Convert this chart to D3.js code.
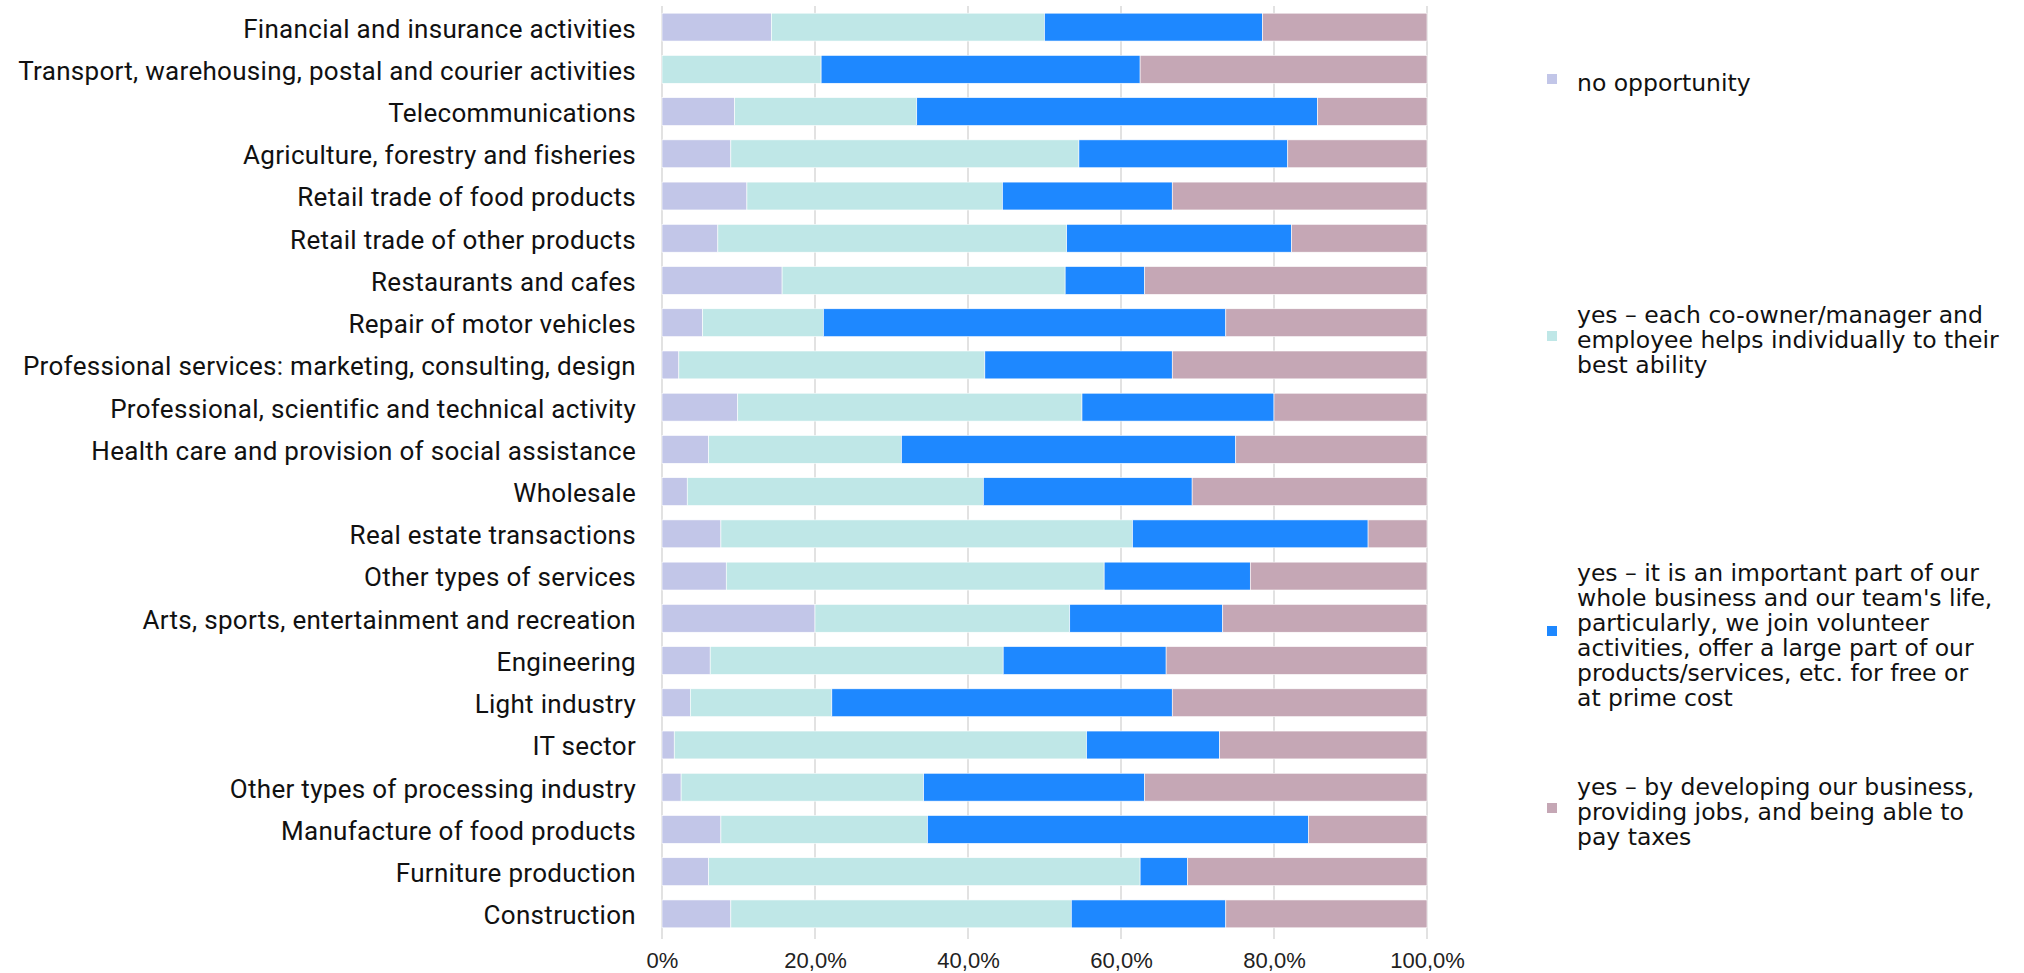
<!DOCTYPE html>
<html>
<head>
<meta charset="utf-8">
<script src="https://cdn.jsdelivr.net/npm/d3@7"></script>
<style>
  body { margin: 0; background: #fff; }
  .cat text { font-family: Roboto, "Liberation Sans", sans-serif; font-size: 26px; letter-spacing: 0.3px; fill: #111; }
  .xaxis text { font-family: "Liberation Sans", Arial, sans-serif; font-size: 22px; fill: #222; }
  .legend text { font-family: "DejaVu Sans", sans-serif; font-size: 23.5px; fill: #111; }
</style>
</head>
<body>
<svg id="chart" width="2024" height="973"></svg>
<script>
// categories, top to bottom
const categories = [
  "Financial and insurance activities",
  "Transport, warehousing, postal and courier activities",
  "Telecommunications",
  "Agriculture, forestry and fisheries",
  "Retail trade of food products",
  "Retail trade of other products",
  "Restaurants and cafes",
  "Repair of motor vehicles",
  "Professional services: marketing, consulting, design",
  "Professional, scientific and technical activity",
  "Health care and provision of social assistance",
  "Wholesale",
  "Real estate transactions",
  "Other types of services",
  "Arts, sports, entertainment and recreation",
  "Engineering",
  "Light industry",
  "IT sector",
  "Other types of processing industry",
  "Manufacture of food products",
  "Furniture production",
  "Construction"
];

const seriesNames = [
  "no opportunity",
  "yes – each co-owner/manager and employee helps individually to their best ability",
  "yes – it is an important part of our whole business and our team's life, particularly, we join volunteer activities, offer a large part of our products/services, etc. for free or at prime cost",
  "yes – by developing our business, providing jobs, and being able to pay taxes"
];

// shares in %, same order as categories
const noOpportunity = [14.3, 0, 9.5, 9.0, 11.1, 7.3, 15.7, 5.3, 2.2, 9.9, 6.1, 3.3, 7.7, 8.4, 20.0, 6.3, 3.7, 1.6, 2.5, 7.7, 6.1, 9.0];
const individually = [35.7, 20.8, 23.8, 45.5, 33.4, 45.6, 37.0, 15.8, 40.0, 45.0, 25.2, 38.7, 53.8, 49.4, 33.3, 38.3, 18.5, 53.9, 31.7, 27.0, 56.4, 44.5];
const importantPart = [28.5, 41.7, 52.4, 27.3, 22.2, 29.4, 10.4, 52.6, 24.5, 25.1, 43.7, 27.3, 30.8, 19.1, 20.0, 21.3, 44.5, 17.4, 28.9, 49.8, 6.2, 20.2];
const developing = [21.5, 37.5, 14.3, 18.2, 33.3, 17.7, 36.9, 26.3, 33.3, 20.0, 25.0, 30.7, 7.7, 23.1, 26.7, 34.1, 33.3, 27.1, 36.9, 15.5, 31.3, 26.3];

const xTicks = [0, 20, 40, 60, 80, 100];

const legendLines = [
  ["no opportunity"],
  ["yes – each co-owner/manager and", "employee helps individually to their", "best ability"],
  ["yes – it is an important part of our", "whole business and our team's life,", "particularly, we join volunteer", "activities, offer a large part of our", "products/services, etc. for free or", "at prime cost"],
  ["yes – by developing our business,", "providing jobs, and being able to", "pay taxes"]
];
const legendY = [79, 336, 631, 808];

const colors = ["#c2c6e8", "#bfe7e7", "#1e88ff", "#c5a7b5"];

const svg = d3.select("#chart");
const plotLeft = 662, plotRight = 1427, plotTop = 6, plotBottom = 935;

const rows = categories.map((c, i) => ({
  cat: c,
  s0: noOpportunity[i], s1: individually[i], s2: importantPart[i], s3: developing[i]
}));
const stack = d3.stack().keys(["s0", "s1", "s2", "s3"])(rows);

const x = d3.scaleLinear().domain([0, 100]).range([plotLeft, plotRight]);
const y = d3.scaleBand().domain(categories).range([plotTop, plotBottom]).paddingInner(0.34).paddingOuter(0.17);

// gridlines
svg.append("g")
  .selectAll("line")
  .data(xTicks)
  .enter()
  .append("line")
  .attr("x1", d => x(d)).attr("x2", d => x(d))
  .attr("y1", plotTop).attr("y2", plotBottom + 4)
  .style("stroke", "#d9d9d9")
  .style("stroke-width", "1.5px");

// bars
svg.append("g")
  .selectAll("g")
  .data(stack)
  .enter()
  .append("g")
  .attr("fill", (d, i) => colors[i])
  .selectAll("rect")
  .data(d => d)
  .enter()
  .append("rect")
  .attr("x", d => x(d[0]))
  .attr("width", d => Math.max(0, x(d[1]) - x(d[0])))
  .attr("y", d => y(d.data.cat))
  .attr("height", y.bandwidth())
  .style("stroke", "#fff")
  .style("stroke-width", "0.6px");

// category labels
const cat = svg.append("g")
  .attr("class", "cat")
  .attr("transform", `translate(${plotLeft - 26},0)`)
  .call(d3.axisLeft(y).tickSize(0).tickPadding(0));
cat.select(".domain").remove();
cat.selectAll("text").attr("dy", "0.4em");

// x axis
const xa = svg.append("g")
  .attr("class", "xaxis")
  .attr("transform", `translate(0,${plotBottom + 17})`)
  .call(d3.axisBottom(x).tickValues(xTicks).tickSize(0).tickPadding(0)
    .tickFormat(d => d === 0 ? "0%" : d.toFixed(1).replace(".", ",") + "%"));
xa.select(".domain").remove();

// legend
const lineH = 25;
const lg = svg.append("g")
  .attr("class", "legend")
  .selectAll("g")
  .data(legendLines)
  .enter()
  .append("g")
  .attr("transform", (d, i) => `translate(1547,${legendY[i]})`);

lg.append("rect")
  .attr("x", 0).attr("y", -5)
  .attr("width", 10).attr("height", 10)
  .attr("fill", (d, i) => colors[i]);

lg.each(function (lines) {
  const t = d3.select(this).append("text");
  lines.forEach((ln, j) => {
    t.append("tspan")
      .attr("x", 30)
      .attr("y", 4 + (j - (lines.length - 1) / 2) * lineH)
      .attr("dy", "0.35em")
      .text(ln);
  });
});
</script>
</body>
</html>
